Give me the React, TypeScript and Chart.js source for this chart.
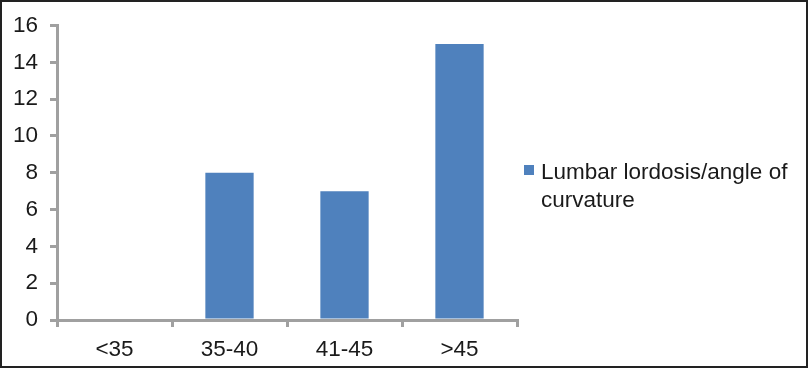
import React, { useEffect, useRef } from "react";
import { Chart, registerables } from "chart.js";

Chart.register(...registerables);

const categories = ["<35", "35-40", "41-45", ">45"];
const values = [0, 8, 7, 15];
const seriesLabel = "Lumbar lordosis/angle of curvature";
const legendLines = ["Lumbar lordosis/angle of", "curvature"];
const yTicks = [0, 2, 4, 6, 8, 10, 12, 14, 16];

const FONT = "'Liberation Sans', Arial, sans-serif";
const BAR = "#4f81bd";
const AXIS = "#a0a0a0";
const FS = 22.5;

export default function App() {
  const ref = useRef<HTMLCanvasElement | null>(null);

  useEffect(() => {
    document.body.style.margin = "0";
    const frame = {
      id: "frame",
      beforeDraw(chart: any) {
        const c = chart.ctx;
        c.save();
        c.fillStyle = "#fff";
        c.fillRect(0, 0, chart.width, chart.height);
        c.restore();
      },
      afterDraw(chart: any) {
        const c = chart.ctx;
        c.save();
        c.strokeStyle = "#222";
        c.lineWidth = 2;
        c.strokeRect(1, 1, chart.width - 2, chart.height - 2);
        const x0 = 524;
        const y0 = 165;
        c.fillStyle = BAR;
        c.fillRect(x0, y0, 10, 10);
        c.fillStyle = "#1a1a1a";
        c.font = `${FS}px ${FONT}`;
        c.textBaseline = "middle";
        c.textAlign = "left";
        legendLines.forEach((t, i) => c.fillText(t, 541, 173 + i * 28));
        c.restore();
      },
    };
    const chart = new Chart(ref.current!, {
      type: "bar",
      data: {
        labels: categories,
        datasets: [
          {
            label: seriesLabel,
            data: values,
            backgroundColor: BAR,
            categoryPercentage: 1,
            barPercentage: 0.42,
          },
        ],
      },
      options: {
        animation: false,
        responsive: false,
        layout: { padding: { left: 0, right: 291, top: 25, bottom: 0 } },
        plugins: { legend: { display: false }, tooltip: { enabled: false } },
        scales: {
          x: {
            offset: true,
            afterFit: (s: any) => {
              s.height = 48;
            },
            grid: {
              offset: true,
              drawOnChartArea: false,
              drawTicks: true,
              tickLength: 7,
              color: AXIS,
              lineWidth: 3,
            },
            border: { display: true, color: AXIS, width: 3 },
            ticks: {
              color: "#1a1a1a",
              font: { family: FONT, size: FS },
              padding: 9,
            },
          },
          y: {
            min: 0,
            max: 16,
            afterFit: (s: any) => {
              s.width = 57;
            },
            afterBuildTicks: (s: any) => {
              s.ticks = yTicks.map((v) => ({ value: v }));
            },
            grid: {
              drawOnChartArea: false,
              drawTicks: true,
              tickLength: 7,
              color: AXIS,
              lineWidth: 3,
            },
            border: { display: true, color: AXIS, width: 3 },
            ticks: {
              color: "#1a1a1a",
              font: { family: FONT, size: FS },
              padding: 12,
            },
          },
        },
      },
      plugins: [frame],
    });
    return () => chart.destroy();
  }, []);

  return (
    <div style={{ position: "absolute", left: 0, top: 0, width: 808, height: 368 }}>
      <canvas ref={ref} width={808} height={368} style={{ width: 808, height: 368, display: "block" }} />
    </div>
  );
}
